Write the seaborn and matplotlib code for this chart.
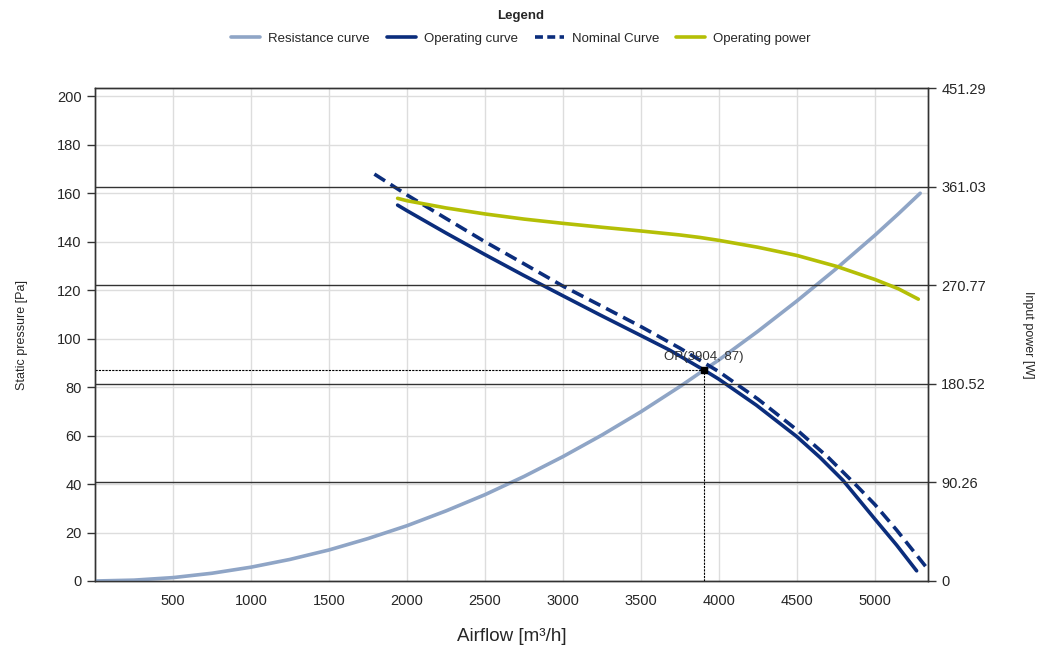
import matplotlib
matplotlib.use("Agg")
import matplotlib.pyplot as plt
import seaborn as sns
import pandas as pd
from matplotlib.lines import Line2D

# data
resist_q = [0, 250, 500, 750, 1000, 1250, 1500, 1750, 2000, 2250, 2500, 2750, 3000,
            3250, 3500, 3750, 3904, 4000, 4250, 4500, 4750, 5000, 5150, 5290]
resist_p = [0, 0.36, 1.4, 3.2, 5.7, 8.9, 12.8, 17.5, 22.8, 28.9, 35.6, 43.1, 51.3,
            60.2, 69.8, 80.2, 87.0, 91.2, 103.0, 115.5, 128.7, 142.6, 151.4, 159.9]

oper_q = [1940, 2000, 2250, 2500, 2743, 3000, 3235, 3500, 3684, 3904, 4000, 4240,
          4500, 4647, 4795, 5000, 5139, 5267]
oper_p = [155, 152.7, 143.5, 134.6, 126.2, 117.6, 109.8, 101.2, 95.2, 87, 83.2, 72.5,
          59.5, 51, 41.5, 25.5, 14.8, 4.2]

nom_q = [1791, 2000, 2250, 2500, 2750, 3000, 3250, 3500, 3750, 4000, 4250, 4500,
         4700, 4872, 5000, 5139, 5340]
nom_p = [167.8, 159.2, 149.5, 139.9, 130.8, 121.6, 113.3, 104.9, 96, 86.3, 75,
         62.3, 51, 40, 31.5, 21, 4.8]

power_q = [1940, 2000, 2250, 2500, 2750, 3000, 3250, 3500, 3747, 3877, 4000, 4250,
           4500, 4754, 5000, 5150, 5278]
power_w = [350.3, 348.1, 341.5, 336, 331.3, 327.4, 323.8, 320.4, 316.8, 314.5, 311.8,
           305.5, 298, 288, 276, 267.5, 258]

op_q, op_p = 3904, 87
x_ticks = [500, 1000, 1500, 2000, 2500, 3000, 3500, 4000, 4500, 5000]
left_ticks = list(range(0, 201, 20))
right_ticks = [0, 90.26, 180.52, 270.77, 361.03, 451.29]
right_labels = ["0", "90.26", "180.52", "270.77", "361.03", "451.29"]

c_resist = "#8fa5c6"
c_oper = "#0b2d7c"
c_power = "#b4bf06"

sns.set_style("white")
plt.rcParams["font.family"] = ["Liberation Sans", "DejaVu Sans"]

fig = plt.figure(figsize=(10.42, 6.48), dpi=100)
ax = fig.add_axes([95/1042, 1-581/648, (928-95)/1042, (581-88)/648])
ax2 = ax.twinx()

df_r = pd.DataFrame({"q": resist_q, "p": resist_p})
df_o = pd.DataFrame({"q": oper_q, "p": oper_p})
df_n = pd.DataFrame({"q": nom_q, "p": nom_p})
df_w = pd.DataFrame({"q": power_q, "w": power_w})

sns.lineplot(data=df_r, x="q", y="p", ax=ax, color=c_resist, lw=2.6, zorder=3)
sns.lineplot(data=df_o, x="q", y="p", ax=ax, color=c_oper, lw=2.6, zorder=4)
sns.lineplot(data=df_n, x="q", y="p", ax=ax, color=c_oper, lw=2.6, zorder=4,
             dashes=False, linestyle=(0, (3.5, 1.8)))
sns.lineplot(data=df_w, x="q", y="w", ax=ax2, color=c_power, lw=2.6, zorder=4)

# operating point
ax.plot([0, op_q], [op_p, op_p], color="black", lw=0.8, ls=(0, (2, 1)), zorder=5)
ax.plot([op_q, op_q], [0, op_p], color="black", lw=0.8, ls=(0, (2, 1)), zorder=5)
ax.plot([op_q], [op_p], marker="s", color="black", ms=5, zorder=6)
ax.text(op_q, op_p + 3, f"OP({op_q}, {op_p})", fontsize=9.5, ha="center", va="bottom",
        color="#333333", zorder=6)

ax.set_xlim(0, 5340)
ax.set_ylim(0, 203.3)
ax2.set_ylim(0, 451.29)
ax.set_xticks(x_ticks)
ax.set_yticks(left_ticks)
ax2.set_yticks(right_ticks)
ax2.set_yticklabels(right_labels)

ax.grid(True, color="#dddddd", lw=1)
ax.set_axisbelow(True)
for v in right_ticks[1:-1]:
    ax2.axhline(v, color="#333333", lw=1, zorder=1)

for a in (ax, ax2):
    for s in a.spines.values():
        s.set_color("#333333")
        s.set_linewidth(1)
ax.tick_params(axis="both", labelsize=10.5, length=6, width=1, color="#333333")
ax2.tick_params(axis="y", labelsize=10.5, length=6, width=1, color="#333333")

ax.set_xlabel("Airflow [m³/h]", fontsize=13.5, labelpad=14)
ax.set_ylabel("Static pressure [Pa]", fontsize=9, labelpad=21)
ax2.set_ylabel("Input power [W]", fontsize=9, rotation=-90, labelpad=30, va="center")

handles = [
    Line2D([], [], color=c_resist, lw=2.6),
    Line2D([], [], color=c_oper, lw=2.6),
    Line2D([], [], color=c_oper, lw=2.6, ls=(0, (2.2, 1.2))),
    Line2D([], [], color=c_power, lw=2.6),
]
labels = ["Resistance curve", "Operating curve", "Nominal Curve", "Operating power"]
fig.text(0.5, 1 - 16/648, "Legend", fontsize=9.5, fontweight="bold", ha="center", va="center")
fig.legend(handles, labels, loc="center", bbox_to_anchor=(0.5, 1 - 39/648), ncol=4,
           frameon=False, fontsize=9.5, handlelength=2.2,
           columnspacing=1.3, handletextpad=0.6)

fig.savefig("out.png", dpi=100)
